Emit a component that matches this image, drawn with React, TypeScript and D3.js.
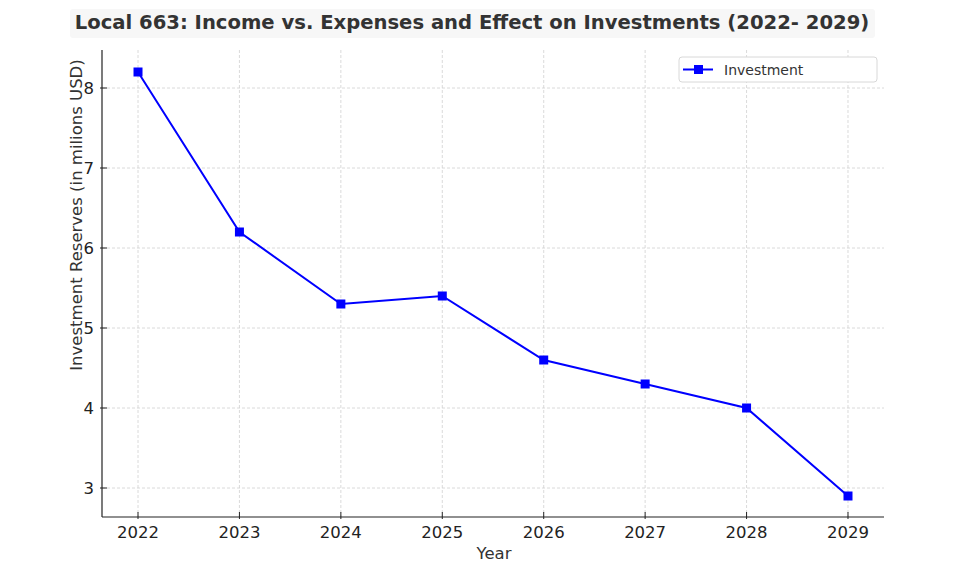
import React from "react";
import * as d3 from "d3";

const years = [2022, 2023, 2024, 2025, 2026, 2027, 2028, 2029];
const investment = [8.2, 6.2, 5.3, 5.4, 4.6, 4.3, 4.0, 2.9];
const yTicks = [3, 4, 5, 6, 7, 8];
const title = "Local 663: Income vs. Expenses and Effect on Investments (2022- 2029)";
const seriesName = "Investment";
const xLabel = "Year";
const yLabel = "Investment Reserves (in milions USD)";

const W = 960, H = 576;
const left = 102, right = 884, top = 50, bottom = 517;

export default function App() {
  const x = d3.scaleLinear().domain([2021.645, 2029.355]).range([left, right]);
  const y = d3.scaleLinear().domain([2.6375, 8.475]).range([bottom, top]);
  const line = d3.line<number>().x((_, i) => x(years[i])).y((d) => y(d));
  const font = "'DejaVu Sans', sans-serif";
  return (
    <svg width={W} height={H} style={{ position: "absolute", left: 0, top: 0, background: "#fff" }} fontFamily={font}>
      <rect x={70} y={9} width={805} height={29} rx={3} fill="#f7f7f7" />
      <text x={472} y={29} textAnchor="middle" fontSize={19.6} fontWeight="bold" fill="#333">{title}</text>
      {years.map((yr) => (
        <line key={"gx" + yr} x1={x(yr)} x2={x(yr)} y1={top} y2={bottom} stroke="#d0d0d0" strokeDasharray="3,2" strokeWidth={0.8} />
      ))}
      {yTicks.map((t) => (
        <line key={"gy" + t} x1={left} x2={right} y1={y(t)} y2={y(t)} stroke="#d0d0d0" strokeDasharray="3,2" strokeWidth={0.8} />
      ))}
      <line x1={left} x2={left} y1={top} y2={bottom} stroke="#222" strokeWidth={1.2} />
      <line x1={left} x2={right} y1={bottom} y2={bottom} stroke="#222" strokeWidth={1.2} />
      {years.map((yr) => (
        <g key={"tx" + yr}>
          <line x1={x(yr)} x2={x(yr)} y1={bottom + 2} y2={bottom - 5} stroke="#222" />
          <text x={x(yr)} y={bottom + 21} textAnchor="middle" fontSize={16.5} fill="#222">{yr}</text>
        </g>
      ))}
      {yTicks.map((t) => (
        <g key={"ty" + t}>
          <line x1={left - 2} x2={left + 5} y1={y(t)} y2={y(t)} stroke="#222" />
          <text x={left - 8} y={y(t) + 6} textAnchor="end" fontSize={16.5} fill="#222">{t}</text>
        </g>
      ))}
      <text x={494} y={559} textAnchor="middle" fontSize={16.5} fill="#333">{xLabel}</text>
      <text transform={`translate(82,215) rotate(-90)`} textAnchor="middle" fontSize={16.5} fill="#333">{yLabel}</text>
      <path d={line(investment) || ""} fill="none" stroke="#0000ff" strokeWidth={2} />
      {investment.map((v, i) => (
        <rect key={"m" + i} x={x(years[i]) - 4.5} y={y(v) - 4.5} width={9} height={9} fill="#0000ff" />
      ))}
      <rect x={679} y={57} width={198} height={25} rx={3} fill="#fff" stroke="#d8d8d8" />
      <line x1={683} x2={713} y1={69.5} y2={69.5} stroke="#0000ff" strokeWidth={2} />
      <rect x={694} y={65} width={9} height={9} fill="#0000ff" />
      <text x={724} y={75} fontSize={14} fill="#333">{seriesName}</text>
    </svg>
  );
}
